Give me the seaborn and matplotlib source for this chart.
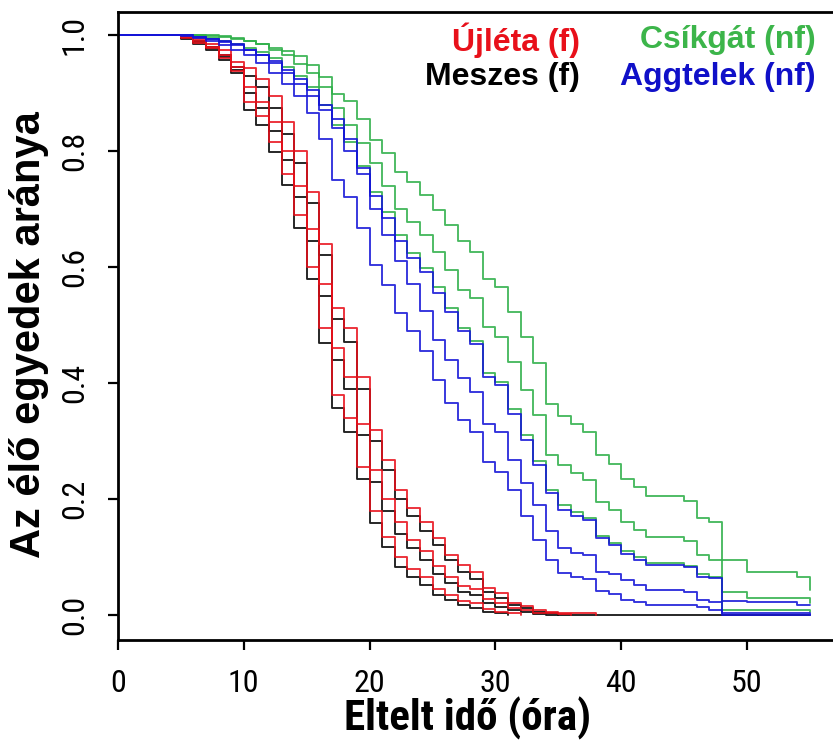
import matplotlib
matplotlib.use("Agg")
import matplotlib.pyplot as plt
import seaborn as sns
import pandas as pd
from matplotlib import font_manager as fm

# ---------------- data (survival proportion per hour, first value = hour 5) ---------------
first_hour = 5

ujleta_a = [0.994, 0.987, 0.978, 0.96, 0.938, 0.885, 0.86, 0.815, 0.76, 0.69,
            0.60, 0.495, 0.38, 0.34, 0.255, 0.18, 0.135, 0.10, 0.08, 0.065,
            0.045, 0.035, 0.025, 0.02, 0.01, 0.006, 0.003, 0.0]
ujleta_b = [0.996, 0.99, 0.98, 0.965, 0.945, 0.91, 0.885, 0.85, 0.80, 0.74,
            0.665, 0.57, 0.46, 0.41, 0.33, 0.25, 0.20, 0.16, 0.13, 0.11,
            0.085, 0.065, 0.05, 0.045, 0.028, 0.02, 0.012, 0.008, 0.004, 0.004,
            0.002, 0.0]
ujleta_c = [0.997, 0.993, 0.985, 0.974, 0.954, 0.943, 0.925, 0.895, 0.85, 0.80,
            0.73, 0.64, 0.53, 0.495, 0.41, 0.319, 0.267, 0.216, 0.184, 0.16,
            0.133, 0.103, 0.086, 0.075, 0.047, 0.038, 0.02, 0.015, 0.008, 0.005,
            0.003, 0.003, 0.003, 0.0]

meszes_a = [0.993, 0.985, 0.975, 0.957, 0.934, 0.871, 0.845, 0.798, 0.741, 0.667,
            0.58, 0.469, 0.357, 0.316, 0.234, 0.159, 0.117, 0.083, 0.066, 0.052,
            0.034, 0.026, 0.017, 0.012, 0.006, 0.003, 0.0]
meszes_b = [0.995, 0.988, 0.978, 0.962, 0.94, 0.90, 0.875, 0.835, 0.785, 0.72,
            0.645, 0.55, 0.44, 0.39, 0.31, 0.23, 0.18, 0.14, 0.115, 0.095,
            0.07, 0.055, 0.04, 0.035, 0.02, 0.014, 0.008, 0.005, 0.002, 0.0,
            0.0, 0.0, 0.0, 0.0, 0.0, 0.0, 0.0, 0.0, 0.0, 0.0,
            0.0, 0.0, 0.0, 0.0, 0.0, 0.0, 0.0, 0.0, 0.0, 0.0,
            0.0]
meszes_c = [0.995, 0.99, 0.98, 0.965, 0.945, 0.93, 0.91, 0.875, 0.83, 0.78,
            0.71, 0.62, 0.51, 0.47, 0.39, 0.30, 0.25, 0.20, 0.17, 0.145,
            0.12, 0.095, 0.075, 0.062, 0.04, 0.03, 0.018, 0.012, 0.006, 0.003,
            0.0]

csikgat_a = [1.0, 1.0, 1.0, 0.998, 0.995, 0.99, 0.985, 0.978, 0.972, 0.963,
             0.948, 0.927, 0.898, 0.886, 0.856, 0.819, 0.796, 0.764, 0.747, 0.724,
             0.698, 0.672, 0.644, 0.626, 0.58, 0.566, 0.523, 0.479, 0.435, 0.364,
             0.343, 0.33, 0.316, 0.276, 0.261, 0.234, 0.221, 0.206, 0.206, 0.206,
             0.197, 0.168, 0.161, 0.095, 0.095, 0.075, 0.075, 0.075, 0.075, 0.066,
             0.043]
csikgat_b = [1.0, 1.0, 0.998, 0.996, 0.993, 0.99, 0.985, 0.975, 0.965, 0.95,
             0.935, 0.91, 0.875, 0.845, 0.813, 0.78, 0.74, 0.70, 0.678, 0.655,
             0.626, 0.595, 0.56, 0.546, 0.497, 0.48, 0.436, 0.388, 0.345, 0.276,
             0.258, 0.244, 0.232, 0.195, 0.181, 0.16, 0.147, 0.134, 0.134, 0.134,
             0.127, 0.104, 0.095, 0.04, 0.04, 0.029, 0.029, 0.029, 0.029, 0.029,
             0.02]
csikgat_c = [1.0, 0.998, 0.995, 0.99, 0.985, 0.978, 0.97, 0.96, 0.945, 0.93,
             0.91, 0.88, 0.845, 0.815, 0.775, 0.73, 0.695, 0.655, 0.625, 0.598,
             0.565, 0.53, 0.495, 0.472, 0.418, 0.402, 0.355, 0.31, 0.265, 0.215,
             0.19, 0.178, 0.168, 0.137, 0.125, 0.11, 0.10, 0.09, 0.09, 0.09,
             0.085, 0.07, 0.065, 0.009, 0.009, 0.009, 0.009, 0.009, 0.009, 0.009,
             0.005]

aggtelek_a = [1.0, 0.997, 0.993, 0.99, 0.985, 0.975, 0.965, 0.955, 0.94, 0.925,
              0.905, 0.88, 0.855, 0.82, 0.77, 0.722, 0.684, 0.644, 0.615, 0.592,
              0.555, 0.523, 0.489, 0.468, 0.411, 0.397, 0.347, 0.302, 0.259, 0.21,
              0.181, 0.171, 0.164, 0.132, 0.121, 0.106, 0.095, 0.086, 0.086, 0.086,
              0.082, 0.066, 0.063, 0.025, 0.025, 0.023, 0.023, 0.023, 0.023, 0.017,
              0.017]
aggtelek_b = [1.0, 0.997, 0.993, 0.988, 0.982, 0.975, 0.965, 0.952, 0.935, 0.915,
              0.895, 0.87, 0.84, 0.80, 0.76, 0.70, 0.655, 0.61, 0.57, 0.525,
              0.475, 0.44, 0.408, 0.385, 0.33, 0.316, 0.267, 0.227, 0.19, 0.145,
              0.115, 0.107, 0.103, 0.075, 0.07, 0.06, 0.052, 0.043, 0.043, 0.043,
              0.04, 0.026, 0.023, 0.003, 0.003, 0.003, 0.003, 0.003, 0.003, 0.003,
              0.0]
aggtelek_c = [0.998, 0.995, 0.99, 0.983, 0.975, 0.965, 0.952, 0.935, 0.915, 0.894,
              0.865, 0.82, 0.75, 0.721, 0.667, 0.603, 0.569, 0.52, 0.49, 0.455,
              0.405, 0.365, 0.336, 0.316, 0.264, 0.247, 0.215, 0.17, 0.13, 0.095,
              0.072, 0.066, 0.062, 0.042, 0.036, 0.026, 0.022, 0.017, 0.017, 0.017,
              0.017, 0.014, 0.009, 0.0, 0.0, 0.0, 0.0, 0.0, 0.0, 0.0,
              0.0]

site_labels = ["Újléta (f)", "Meszes (f)", "Csíkgát (nf)", "Aggtelek (nf)"]
site_colors = ["#e8101a", "#000000", "#2fb04a", "#1414d8"]
label_colors = ["#e8101a", "#000000", "#3cb54a", "#1010c8"]
x_ticks = [0, 10, 20, 30, 40, 50]
y_ticks = [0.0, 0.2, 0.4, 0.6, 0.8, 1.0]
y_tick_labels = ["0.0", "0.2", "0.4", "0.6", "0.8", "1.0"]

curves = {
    "Meszes (f)": [meszes_a, meszes_b, meszes_c],
    "Újléta (f)": [ujleta_a, ujleta_b, ujleta_c],
    "Csíkgát (nf)": [csikgat_a, csikgat_b, csikgat_c],
    "Aggtelek (nf)": [aggtelek_a, aggtelek_b, aggtelek_c],
}

rows = []
order = []
for site, lst in curves.items():
    for i, vals in enumerate(lst):
        name = f"{site}#{i}"
        order.append(name)
        rows.append({"hour": 0, "surv": 1.0, "curve": name, "site": site})
        for k, v in enumerate(vals):
            rows.append({"hour": first_hour + k, "surv": v, "curve": name, "site": site})
df = pd.DataFrame(rows)
palette = {name: site_colors[site_labels.index(name.split("#")[0])] for name in order}

# ---------------- fonts ----------------
def has_font(name, stretch="normal"):
    try:
        path = fm.findfont(fm.FontProperties(family=name, stretch=stretch),
                           fallback_to_default=False)
        return path
    except Exception:
        return None

narrow_props = None
for fam in ["Liberation Sans Narrow", "Arial Narrow", "Roboto Condensed",
            "Open Sans Condensed", "Noto Sans Display"]:
    p = has_font(fam)
    if p:
        narrow_props = dict(fontfamily=fam)
        break
if narrow_props is None:
    narrow_props = dict(fontfamily="Liberation Sans")

regular = "Liberation Sans"

sns.set_style("white")
plt.rcParams["font.family"] = [regular, "DejaVu Sans"]
plt.rcParams["text.color"] = "black"
plt.rcParams["xtick.color"] = "black"
plt.rcParams["ytick.color"] = "black"
plt.rcParams["xtick.labelcolor"] = "black"
plt.rcParams["ytick.labelcolor"] = "black"

W, H = 833, 741
fig = plt.figure(figsize=(W / 100, H / 100), dpi=100)
left_px, right_px, top_px, bottom_px = 118, 842, 12, 640
ax = fig.add_axes([left_px / W, 1 - bottom_px / H, (right_px - left_px) / W,
                   (bottom_px - top_px) / H])

sns.lineplot(data=df, x="hour", y="surv", hue="curve", hue_order=order,
             palette=palette, estimator=None, sort=False, drawstyle="steps-post",
             legend=False, linewidth=1.35, ax=ax)
for ln in ax.lines:
    ln.set_alpha(0.88)

ax.set_xlim(0, (right_px - left_px) / 12.58)
ax.set_ylim(-(bottom_px - 615) / 580, 1 + (35 - top_px) / 580)
ax.set_xlabel("")
ax.set_ylabel("")
ax.set_xticks(x_ticks)
ax.set_xticklabels([str(t) for t in x_ticks], fontsize=23, color="black", **narrow_props)
ax.set_yticks(y_ticks)
ax.set_yticklabels(y_tick_labels, fontsize=23, rotation=90, va="center",
                   color="black", **narrow_props)
ax.tick_params(axis="both", direction="out", length=7, width=1.6, color="black",
               bottom=True, left=True)
ax.tick_params(axis="x", pad=14)
ax.tick_params(axis="y", pad=14)
for s in ax.spines.values():
    s.set_linewidth(2.0)
    s.set_color("black")
    s.set_visible(True)

fig.text(468 / W, 1 - 718 / H, "Eltelt idő (óra)", fontweight="bold",
         fontsize=31, ha="center", va="center", color="black", **narrow_props)
fig.text(29 / W, 1 - 335 / H, "Az élő egyedek aránya", fontweight="bold",
         fontsize=30, rotation=90, ha="center", va="center", color="black")

fs_leg = 23
fig.text(580 / W, 1 - 40 / H, site_labels[0], color=label_colors[0], fontweight="bold",
         fontsize=fs_leg, ha="right", va="center")
fig.text(580 / W, 1 - 77 / H, site_labels[1], color=label_colors[1], fontweight="bold",
         fontsize=fs_leg, ha="right", va="center")
fig.text(816 / W, 1 - 40 / H, site_labels[2], color=label_colors[2], fontweight="bold",
         fontsize=fs_leg, ha="right", va="center")
fig.text(816 / W, 1 - 77 / H, site_labels[3], color=label_colors[3], fontweight="bold",
         fontsize=fs_leg, ha="right", va="center")

fig.savefig("out.png", dpi=100)
